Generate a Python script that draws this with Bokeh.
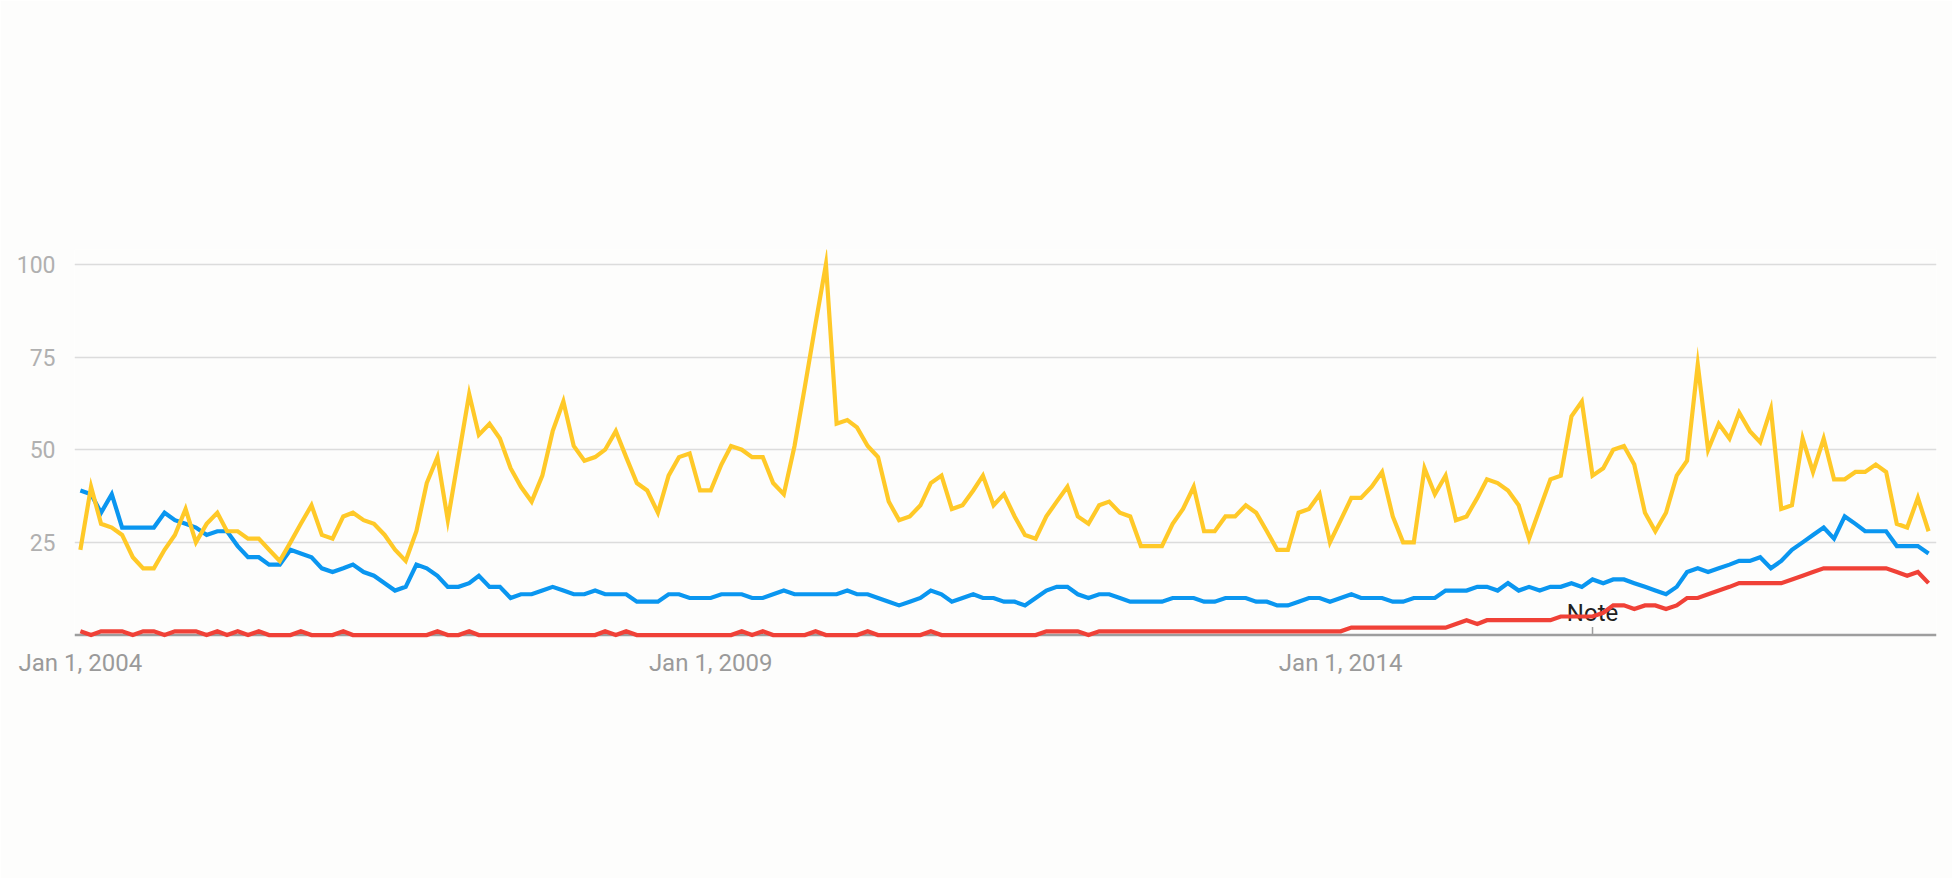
import pandas as pd
from bokeh.plotting import figure
from bokeh.models import FixedTicker, Span, Range1d
from bokeh.core.properties import value
from bokeh.embed import file_html
from bokeh.resources import INLINE

start_month = "2004-01-01"

blue = [39,38,33,38,29,29,29,29,33,31,30,29,27,28,28,24,21,21,19,19,23,22,21,18,17,
        18,19,17,16,14,12,13,19,18,16,13,13,14,16,13,13,10,11,11,12,13,12,11,11,12,11,11,11,9,9,9,
        11,11,10,10,10,11,11,11,10,10,11,12,11,11,11,11,11,12,11,11,10,9,8,9,10,12,11,9,10,11,
        10,10,9,9,8,10,12,13,13,11,10,11,11,10,9,9,9,9,10,10,10,9,9,10,10,10,9,9,8,8,9,
        10,10,9,10,11,10,10,10,9,9,10,10,10,12,12,12,13,13,12,14,12,13,12,13,13,14,13,15,14,15,
        15,14,13,12,11,13,17,18,17,18,19,20,20,21,18,20,23,25,27,29,26,32,30,28,28,28,24,24,24,22]

red = [1,0,1,1,1,0,1,1,0,1,1,1,0,1,0,1,0,1,0,0,0,1,0,0,0,
       1,0,0,0,0,0,0,0,0,1,0,0,1,0,0,0,0,0,0,0,0,0,0,0,0,1,0,1,0,0,0,
       0,0,0,0,0,0,0,1,0,1,0,0,0,0,1,0,0,0,0,1,0,0,0,0,0,1,0,0,0,0,
       0,0,0,0,0,0,1,1,1,1,0,1,1,1,1,1,1,1,1,1,1,1,1,1,1,1,1,1,1,1,1,
       1,1,1,1,2,2,2,2,2,2,2,2,2,2,3,4,3,4,4,4,4,4,4,4,5,5,5,5,6,8,
       8,7,8,8,7,8,10,10,11,12,13,14,14,14,14,14,15,16,17,18,18,18,18,18,18,18,17,16,17,14]

yellow = [23,40,30,29,27,21,18,18,23,27,34,25,30,33,28,28,26,26,23,20,25,30,35,27,26,
          32,33,31,30,27,23,20,28,41,48,31,48,65,54,57,53,45,40,36,43,55,63,51,47,48,50,55,48,41,39,33,
          43,48,49,39,39,46,51,50,48,48,41,38,51,67,84,100,57,58,56,51,48,36,31,32,35,41,43,34,35,39,
          43,35,38,32,27,26,32,36,40,32,30,35,36,33,32,24,24,24,30,34,40,28,28,32,32,35,33,28,23,23,33,
          34,38,25,31,37,37,40,44,32,25,25,45,38,43,31,32,37,42,41,39,35,26,34,42,43,59,63,43,45,50,
          51,46,33,28,33,43,47,73,50,57,53,60,55,52,61,34,35,53,44,53,42,42,44,44,46,44,30,29,37,28]

y_ticks = [25, 50, 75, 100]
x_tick_dates = ["2004-01-01", "2009-01-01", "2014-01-01"]
x_tick_labels = ["Jan 1, 2004", "Jan 1, 2009", "Jan 1, 2014"]
note_date = "2016-01-01"
note_text = "Note"

dates = pd.date_range(start_month, periods=len(blue), freq="MS")

BG = "#fdfdfc"
x_start = dates[0] - pd.Timedelta(days=17)
x_end = dates[-1] + pd.Timedelta(days=23)

p = figure(width=1952, height=878, x_axis_type="datetime",
           output_backend="svg", toolbar_location=None,
           x_range=Range1d(x_start, x_end), y_range=Range1d(-1.2, 104),
           min_border_left=74, min_border_right=16,
           min_border_top=249, min_border_bottom=239)
p.background_fill_color = BG
p.border_fill_color = BG
p.outline_line_color = None

# grid
p.xgrid.grid_line_color = None
p.ygrid.ticker = FixedTicker(ticks=y_ticks)
p.ygrid.grid_line_color = "#dcdcdc"
p.ygrid.grid_line_width = 1.3

# y axis
p.yaxis.ticker = FixedTicker(ticks=y_ticks)
p.yaxis.axis_line_color = None
p.yaxis.major_tick_line_color = None
p.yaxis.minor_tick_line_color = None
p.yaxis.major_label_standoff = 13
p.yaxis.major_label_text_font = "Roboto"
p.yaxis.major_label_text_font_size = "23px"
p.yaxis.major_label_text_color = "#b0b0b0"

# x axis
tick_ms = [pd.Timestamp(d).value // 10**6 for d in x_tick_dates]
p.xaxis.ticker = FixedTicker(ticks=tick_ms)
p.xaxis.major_label_overrides = {t: lab for t, lab in zip(tick_ms, x_tick_labels)}
p.xaxis.axis_line_color = None
p.xaxis.major_tick_line_color = None
p.xaxis.minor_tick_line_color = None
p.xaxis.major_label_standoff = 3
p.xaxis.major_label_text_font = "Roboto"
p.xaxis.major_label_text_font_size = "24px"
p.xaxis.major_label_text_color = "#9a9a9a"

# baseline
base = Span(location=0, dimension="width", line_color="#9e9e9e", line_width=2.5, level="underlay")
p.add_layout(base)

# note marker
nd = pd.Timestamp(note_date)
p.segment(x0=[nd], y0=[0], x1=[nd], y1=[2.2], line_color="#9e9e9e", line_width=1.5)
p.text(x=[nd], y=[6], text=[note_text], text_font=value("Roboto"), text_font_size="24px",
       text_color="#212121", text_align="center", text_baseline="middle")

lw = 4.2
p.line(dates, blue, line_color="#0a96f0", line_width=lw, line_join="miter")
p.line(dates, red, line_color="#f04137", line_width=lw, line_join="miter")
p.line(dates, yellow, line_color="#ffc928", line_width=lw, line_join="miter")

open("out.html", "w").write(file_html(p, INLINE))
